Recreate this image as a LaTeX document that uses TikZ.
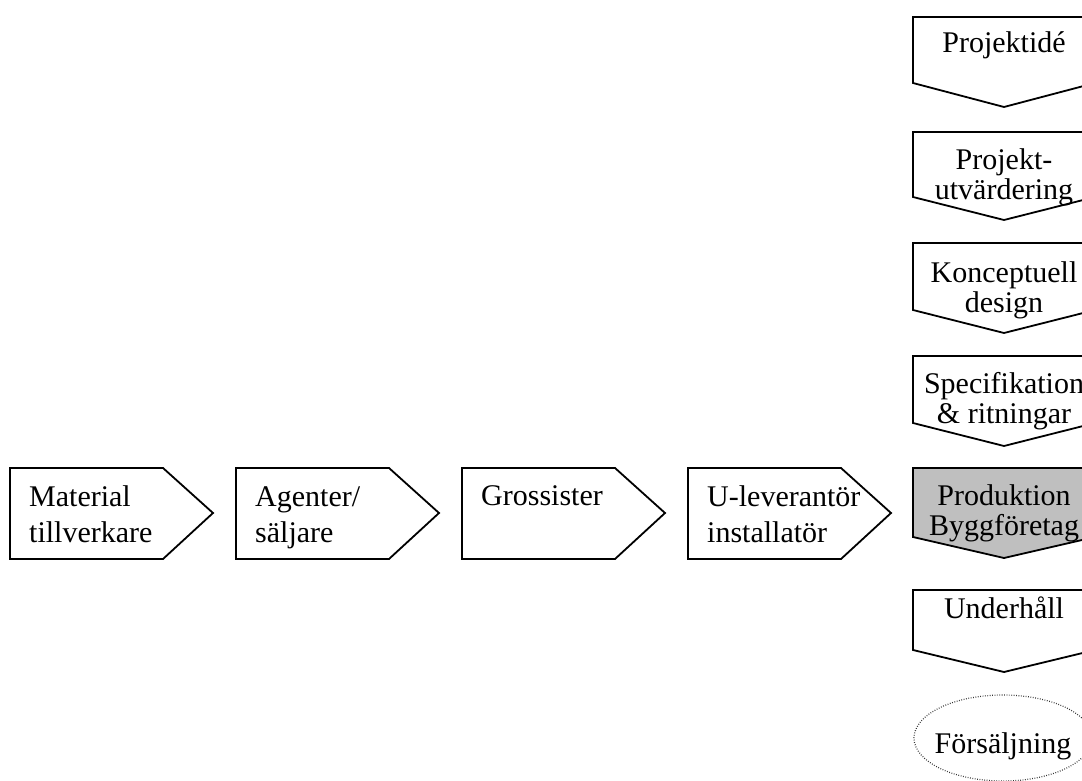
\documentclass[tikz,border=0pt]{standalone}
\usepackage{fontspec}
\setmainfont{Liberation Serif}
\begin{document}
\begin{tikzpicture}[x=1pt,y=-1pt,
  flowbox/.style={draw=black, line width=1.8pt, line join=miter, fill=white},
  hilite/.style={flowbox, fill=black!25},
  hlabel/.style={font=\fontsize{30}{36}\selectfont, align=left, anchor=base west, inner sep=0pt},
  vlabel/.style={font=\fontsize{30}{30}\selectfont, align=center, anchor=base, inner sep=0pt}]
\useasboundingbox (0,0) rectangle (1082,781);
\clip (0,0) rectangle (1082,781);

% supply chain: pentagon arrows pointing right
% (label position = baseline of the last text line)
\foreach \x/\ty/\nm/\txt in {10/542/mat/{Material\\tillverkare},
                         236/542/agt/{Agenter/\\säljare},
                         462/505/gro/{Grossister},
                         688/542/ulv/{U-leverantör\\installatör}}{
  \draw[flowbox] (\x,468) -- (\x+153,468) -- (\x+203,513) -- (\x+153,559) -- (\x,559) -- cycle;
  \node[hlabel] (\nm) at (\x+19,\ty) {\txt};
}

% project phases: pentagon arrows pointing down
\foreach \t/\b/\p/\ty/\nm/\txt/\st in {17/83/107/53/ide/{Projektidé}/flowbox,
    132/197/220/200/utv/{Projekt-\\utvärdering}/flowbox,
    243/310/333/312/kon/{Konceptuell\\design}/flowbox,
    356/423/446/423/spe/{Specifikation\\\& ritningar}/flowbox,
    468/537/558/535/pro/{Produktion\\Byggföretag}/hilite,
    590/650/672/618/und/{Underhåll}/flowbox}{
  \draw[\st] (913,\t) -- (1095,\t) -- (1095,\b) -- (1004,\p) -- (913,\b) -- cycle;
  \node[vlabel] (\nm) at (1004,\ty) {\txt};
}

% sales: dotted ellipse
\draw[black!80, line width=1.2pt, dash pattern=on 0.8pt off 1.6pt] (1003,738) ellipse [x radius=89, y radius=43];
\node[vlabel] (fsg) at (1003,753) {Försäljning};
\end{tikzpicture}
\end{document}
